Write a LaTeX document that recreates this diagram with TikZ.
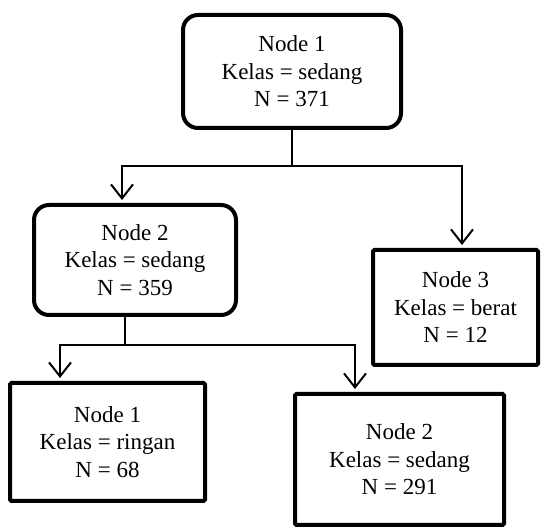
\documentclass[tikz,border=0pt]{standalone}
\usepackage{fontspec}
\setmainfont{Liberation Serif}
\usetikzlibrary{arrows.meta,calc}
\begin{document}
\begin{tikzpicture}[x=1pt,y=-1pt,
  box/.style={draw,line width=4pt,align=center,inner sep=0pt,
    font=\fontsize{23}{27.5}\selectfont},
  rbox/.style={box,rounded corners=15pt},
  sbox/.style={box,rounded corners=1.5pt},
  conn/.style={line width=1.5pt},
  arr/.style={conn,-{Straight Barb[length=14pt,width=22pt,line width=2pt]},shorten >=3pt}]
\useasboundingbox (0,0) rectangle (542,529);
\node[rbox,minimum width=218pt,minimum height=113pt] (top) at (292,71.5) {Node 1\\Kelas = sedang\\N = 371};
\node[rbox,minimum width=202pt,minimum height=110pt] (n2) at (135,260) {Node 2\\Kelas = sedang\\N = 359};
\node[sbox,minimum width=165pt,minimum height=115pt] (n3) at (455.5,307.5) {Node 3\\Kelas = berat\\N = 12};
\node[sbox,minimum width=195pt,minimum height=118pt] (l1) at (107.5,442) {Node 1\\Kelas = ringan\\N = 68};
\node[sbox,minimum width=209pt,minimum height=131pt] (l2) at (399.5,459.5) {Node 2\\Kelas = sedang\\N = 291};
\coordinate (j1) at (292,166);
\coordinate (a1) at (122,166);
\coordinate (b1) at (462,166);
\coordinate (j2) at (125,345);
\coordinate (a2) at (60,345);
\coordinate (b2) at (355,345);
\coordinate (b2end) at (355,392);
\draw[conn] (top.south -| j1) -- (j1);
\draw[arr] (j1) -- (a1) -- (a1 |- n2.north);
\draw[arr] (j1) -- (b1) -- (b1 |- n3.north);
\draw[conn] (n2.south -| j2) -- (j2);
\draw[arr] (j2) -- (a2) -- (a2 |- l1.north);
\draw[arr] (j2) -- (b2) -- (b2end);
\end{tikzpicture}
\end{document}
